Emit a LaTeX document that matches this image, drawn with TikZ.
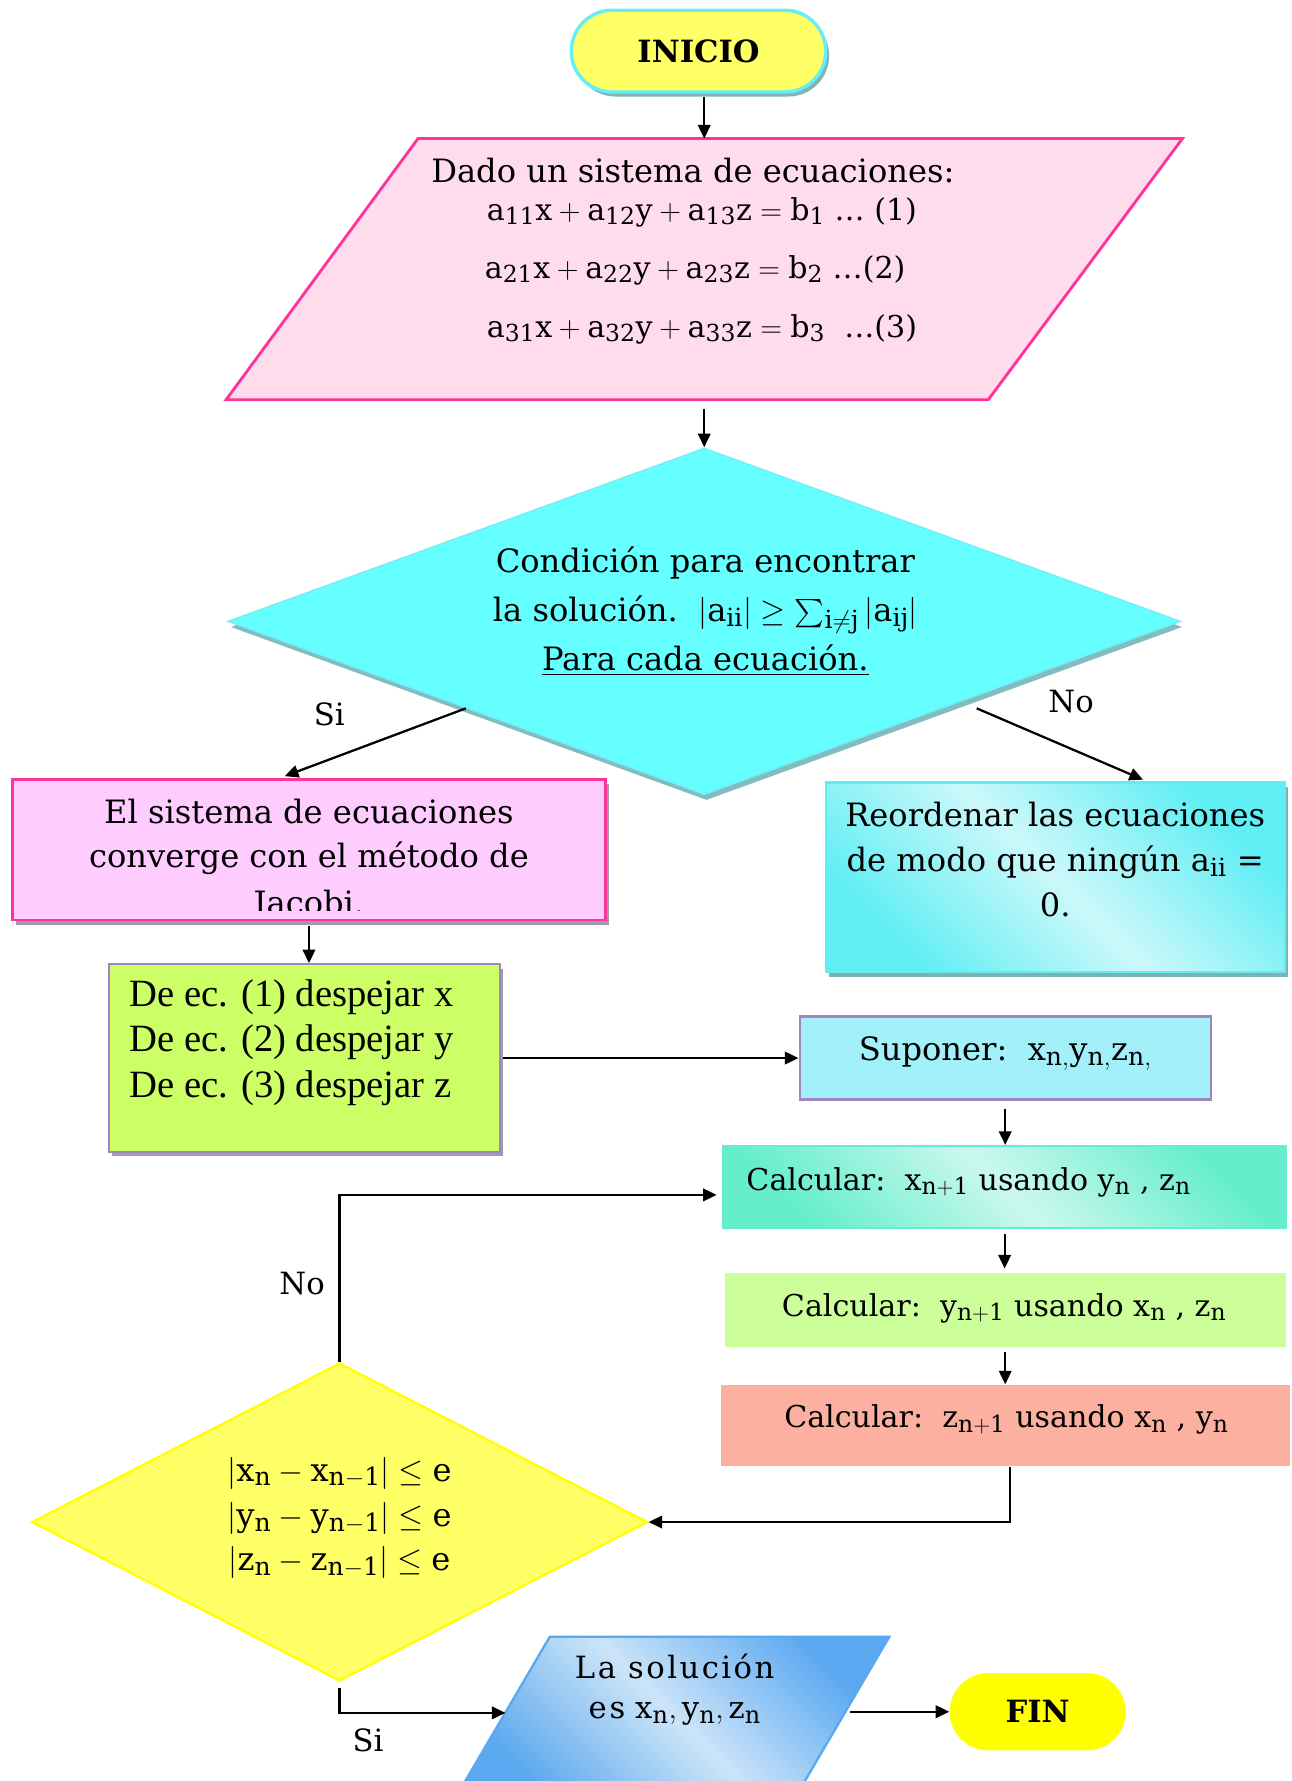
\RequirePackage{fix-cm}
\documentclass[tikz,border=0pt]{standalone}
\usepackage{amsmath}
\usepackage{fontspec}
\setmainfont{DejaVu Serif}
\newfontfamily\timesfont{Liberation Serif}
\newfontfamily\headfont{DejaVu Serif}
\renewcommand\defaultscriptratio{.78}
\usetikzlibrary{shapes.geometric,shapes.misc,arrows.meta,shadows}

\definecolor{inicioFill}{HTML}{FFFF66}
\definecolor{inicioLine}{HTML}{66EEF6}
\definecolor{inicioShade}{HTML}{7FB4B8}
\definecolor{datosFill}{HTML}{FFDCEC}
\definecolor{pinkLine}{HTML}{FF3399}
\definecolor{condFill}{HTML}{66FFFF}
\definecolor{condLine}{HTML}{72F0F8}
\definecolor{condShade}{HTML}{80BCC0}
\definecolor{sysFill}{HTML}{FFCCFF}
\definecolor{greyShade}{HTML}{A09CAE}
\definecolor{reoDark}{HTML}{5EEEF4}
\definecolor{reoLight}{HTML}{CCF8FA}
\definecolor{reoShade}{HTML}{7FB0B2}
\definecolor{despFill}{HTML}{CCFF66}
\definecolor{purpleLine}{HTML}{9F86C0}
\definecolor{supFill}{HTML}{A2F0FA}
\definecolor{calxDark}{HTML}{66EECC}
\definecolor{calxLight}{HTML}{CCF8EE}
\definecolor{calyFill}{HTML}{CCFF99}
\definecolor{calzFill}{HTML}{FCB0A0}
\definecolor{ydFill}{HTML}{FFFF66}
\definecolor{ydLine}{HTML}{FFFF00}
\definecolor{solDark}{HTML}{5AA8F0}
\definecolor{solLight}{HTML}{CCE4F8}
\definecolor{finFill}{HTML}{FFFF00}

\tikzset{
  arr/.style={-{Triangle[length=12pt,width=11pt]}, line width=2pt, draw=black},
  txt/.style={inner sep=0pt, anchor=base, font=\fontsize{28.3}{34}\selectfont},
  mtxt/.style={inner sep=0pt, anchor=base, font=\fontsize{26.5}{32}\selectfont},
  tms/.style={inner sep=0pt, anchor=base west, font=\timesfont\fontsize{34}{40}\selectfont},
  lbl/.style={inner sep=0pt, anchor=base, font=\fontsize{27}{32}\selectfont},
  boxbase/.style={rectangle, inner sep=0pt},
  term/.style={rounded rectangle, inner sep=0pt,
    font=\headfont\bfseries\fontsize{27}{30}\selectfont},
  shadowA/.style={drop shadow={shadow xshift=3pt, shadow yshift=-4pt, fill=#1, opacity=1}},
  diagshade/.style n args={2}{top color=#1, bottom color=#1, middle color=#2, shading angle=-45},
}

\begin{document}
\begin{tikzpicture}[x=1pt, y=-1pt]
\fill[white] (0,0) rectangle (1137,1568);
\useasboundingbox (0,0) rectangle (1137,1568);

% ---- shapes ----
\node[term, minimum width=224pt, minimum height=72pt, draw=inicioLine, line width=3pt,
      fill=inicioFill, shadowA=inicioShade] (inicio) at (615,45) {INICIO};

% data parallelogram
\draw[pinkLine, line width=2.5pt, fill=datosFill, line join=miter]
  (368,122) -- (1041,122) -- (870,352) -- (199,352) -- cycle;
\coordinate (datosN) at (620,122);
\coordinate (datosS) at (620,352);

\node[diamond, minimum width=838pt, minimum height=305pt, inner sep=0pt,
      fill=condFill, draw=condLine, line width=1.5pt,
      drop shadow={shadow xshift=2pt, shadow yshift=-5pt, fill=condShade, opacity=1}]
      (cond) at (620,547) {};

\node[boxbase, minimum width=522pt, minimum height=124pt, fill=sysFill, draw=pinkLine,
      line width=2.5pt, shadowA=greyShade] (sys) at (272,748) {};

\node[boxbase, minimum width=404pt, minimum height=167pt, diagshade={reoDark}{reoLight},
      draw=reoDark, line width=2pt, shadowA=reoShade] (reord) at (929,772.5) {};

\node[boxbase, minimum width=344pt, minimum height=165pt, fill=despFill, draw=purpleLine,
      line width=2pt, shadowA=greyShade] (desp) at (268,931.5) {};

\node[boxbase, minimum width=362pt, minimum height=73pt, fill=supFill, draw=purpleLine,
      line width=2pt] (sup) at (885,931.5) {};

\node[boxbase, minimum width=495pt, minimum height=72pt, diagshade={calxDark}{calxLight},
      draw=calxDark, line width=2pt] (calcx) at (884.5,1045) {};

\node[boxbase, minimum width=494pt, minimum height=65pt, fill=calyFill] (calcy) at (885,1153.5) {};

\node[boxbase, minimum width=501pt, minimum height=72pt, fill=calzFill] (calcz) at (885.5,1255) {};

\node[diamond, minimum width=542pt, minimum height=280pt, inner sep=0pt,
      fill=ydFill, draw=ydLine, line width=2pt] (yd) at (299,1340) {};

% solution parallelogram
\shade[diagshade={solDark}{solLight}] (484,1441) -- (783,1441) -- (701,1581) -- (402,1581) -- cycle;
\draw[solDark, line width=2pt] (484,1441) -- (783,1441) -- (701,1581) -- (402,1581) -- cycle;
\coordinate (solW) at (445,1508);
\coordinate (solE) at (744.5,1507);

\node[term, minimum width=155pt, minimum height=68pt, fill=finFill] (fin) at (913.5,1507) {FIN};

% ---- texts ----
\node[txt] (datos1) at (610,161) {Dado un sistema de ecuaciones:};
\node[mtxt] (datos2) at (618,194) {$\mathrm{a_{11}x+a_{12}y+a_{13}z=b_1}$ \dots\ (1)};
\node[mtxt] (datos3) at (612,245) {$\mathrm{a_{21}x+a_{22}y+a_{23}z=b_2}$ \dots(2)};
\node[mtxt] (datos4) at (618,297) {$\mathrm{a_{31}x+a_{32}y+a_{33}z=b_3}$\ \ \dots(3)};

\node[txt] (cond1) at (621,504) {Condición para encontrar};
\node[txt] (cond2) at (621,547) {la solución.\ \ $|\mathrm{a_{ii}}|\geq\sum_{\mathrm{i\neq j}}|\mathrm{a_{ij}}|$};
\node[txt] (cond3) at (621,590) {\underline{Para cada ecuación.}};

\begin{scope}
  \clip (11,686) rectangle (533,802);
  \node[txt] (sys1) at (272,725) {El sistema de ecuaciones};
  \node[txt] (sys2) at (272,764) {converge con el método de};
  \node[txt] (sys3) at (272,805) {Jacobi.};
\end{scope}

\node[txt] (reo1) at (929,728) {Reordenar las ecuaciones};
\node[txt] (reo2) at (929,767) {de modo que ningún $\mathrm{a_{ii}}$ =};
\node[txt] (reo3) at (929,807) {0.};

\node[tms] (desp1) at (114,886) {De ec. (1) despejar x};
\node[tms] (desp2) at (114,926) {De ec. (2) despejar y};
\node[tms] (desp3) at (114,966) {De ec. (3) despejar z};

\node[txt] (sup1) at (885,934) {Suponer:\ \ $\mathrm{x_{n,}y_{n,}z_{n,}}$};
\node[mtxt, anchor=base west] (calx1) at (657,1048) {Calcular:\ \ $\mathrm{x_{n+1}}$ usando $\mathrm{y_n}$ , $\mathrm{z_n}$};
\node[mtxt] (caly1) at (884,1159) {Calcular:\ \ $\mathrm{y_{n+1}}$ usando $\mathrm{x_n}$ , $\mathrm{z_n}$};
\node[mtxt] (calz1) at (886,1257) {Calcular:\ \ $\mathrm{z_{n+1}}$ usando $\mathrm{x_n}$ , $\mathrm{y_n}$};

\node[txt] (yd1) at (299,1304) {$|\mathrm{x_n-x_{n-1}}|\leq\mathrm{e}$};
\node[txt] (yd2) at (299,1344) {$|\mathrm{y_n-y_{n-1}}|\leq\mathrm{e}$};
\node[txt] (yd3) at (299,1383) {$|\mathrm{z_n-z_{n-1}}|\leq\mathrm{e}$};

\node[lbl] (sol1) at (594,1478) {\addfontfeatures{LetterSpace=8}La solución};
\node[lbl] (sol2) at (594,1513) {{\addfontfeatures{LetterSpace=10}es} $\mathrm{x_n,y_n,z_n}$};

\node[lbl] (siA) at (290,639) {Si};
\node[lbl] (noA) at (943,627) {No};
\node[lbl] (noB) at (266,1140) {No};
\node[lbl] (siB) at (324,1542) {Si};

% ---- connectors ----
\draw[arr, shorten <=3pt] (inicio.south -| datosN) -- (datosN);
\draw[arr, shorten <=8pt] (datosS) -- (cond.north);
\draw[arr, shorten >=4pt] (cond.south west) -- ([xshift=-25pt]sys.north);
\draw[arr, shorten >=4pt] ([xshift=30pt]cond.south east) -- ([xshift=81pt]reord.north);
\draw[arr, shorten <=4pt] (sys.south) -- (sys.south |- desp.north);
\draw[arr, shorten <=2pt] (desp.east) -- (sup.west);
\draw[arr, shorten <=7pt] (sup.south) -- (sup.south |- calcx.north);
\draw[arr, shorten <=4pt, shorten >=4pt] (calcx.south) -- (calcx.south |- calcy.north);
\draw[arr, shorten <=4pt] (calcy.south) -- (calcy.south |- calcz.north);
\draw[arr] ([xshift=4pt]calcz.south) |- (yd.east);
\draw[arr, shorten >=5pt] (yd.north) |- ([yshift=-7pt]calcx.west);
\draw[arr, shorten <=5pt] (yd.south) |- (solW);
\draw[arr, shorten <=4pt] (solE) -- (fin.west);
\end{tikzpicture}
\end{document}
